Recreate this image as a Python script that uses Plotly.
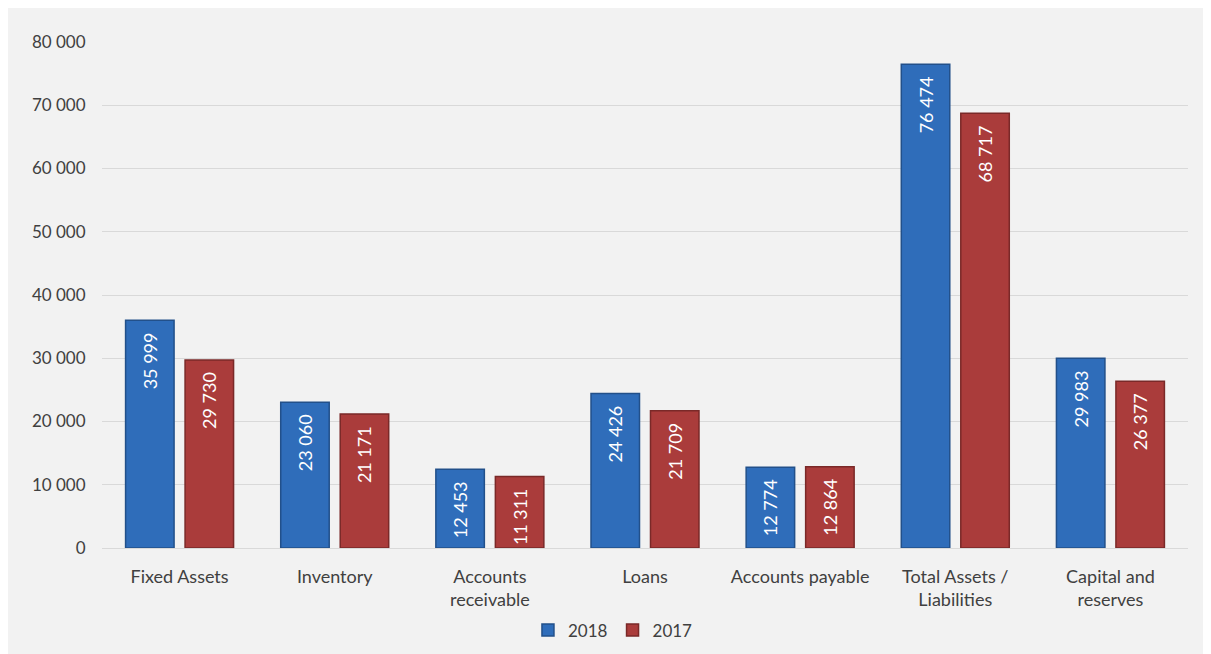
import plotly.graph_objects as go

categories = ["Fixed Assets", "Inventory", "Accounts<br>receivable", "Loans",
              "Accounts payable", "Total Assets /<br>Liabilities", "Capital and<br>reserves"]
values_2018 = [35999, 23060, 12453, 24426, 12774, 76474, 29983]
values_2017 = [29730, 21171, 11311, 21709, 12864, 68717, 26377]
tick_vals = [0, 10000, 20000, 30000, 40000, 50000, 60000, 70000, 80000]

FONT = "Lato"
TXT = "%{y:,d}\u00a0\u00a0"

fig = go.Figure()
fig.add_trace(go.Bar(
    name="2018", x=categories, y=values_2018,
    marker=dict(color="#2f6dba", line=dict(color="#22508a", width=1.5)),
    texttemplate=TXT, textposition="inside", insidetextanchor="end",
    textangle=-90, textfont=dict(color="white", size=18, family=FONT),
))
fig.add_trace(go.Bar(
    name="2017", x=categories, y=values_2017,
    marker=dict(color="#aa3c3b", line=dict(color="#7a2928", width=1.5)),
    texttemplate=TXT, textposition="inside", insidetextanchor="end",
    textangle=-90, textfont=dict(color="white", size=18, family=FONT),
))

# chart-area background panel with thin border
fig.add_shape(type="rect", xref="paper", yref="paper", layer="below",
              x0=-0.0893, x1=1.2, y0=-0.4, y1=1.0737,
              fillcolor="#f2f2f2", line=dict(color="#d9d9d9", width=1))

fig.update_layout(
    width=1203, height=646,
    margin=dict(l=94, r=23, t=34, b=106, autoexpand=False),
    paper_bgcolor="white", plot_bgcolor="rgba(0,0,0,0)",
    separators=". ",
    barmode="group", bargap=0.233, bargroupgap=0.185,
    font=dict(family=FONT, size=17, color="#404040"),
    showlegend=True,
    legend=dict(orientation="h", x=0.4705, xanchor="center",
                y=-0.163, yanchor="middle",
                font=dict(size=17, color="#404040"), itemwidth=30,
                bgcolor="rgba(0,0,0,0)"),
    xaxis=dict(showgrid=False, showline=True, linecolor="#d9d9d9", linewidth=1,
               ticks="outside", ticklen=12, tickcolor="rgba(0,0,0,0)",
               tickangle=0, automargin=False,
               tickfont=dict(size=18, color="#404040")),
    yaxis=dict(range=[0, 80000], tickvals=tick_vals, tickformat=",d",
               showgrid=True, gridcolor="#d9d9d9", gridwidth=1,
               zeroline=False, showline=False, ticks="outside", ticklen=12,
               tickcolor="rgba(0,0,0,0)", automargin=False,
               tickfont=dict(size=17, color="#404040")),
)

fig.write_html("out.html")
